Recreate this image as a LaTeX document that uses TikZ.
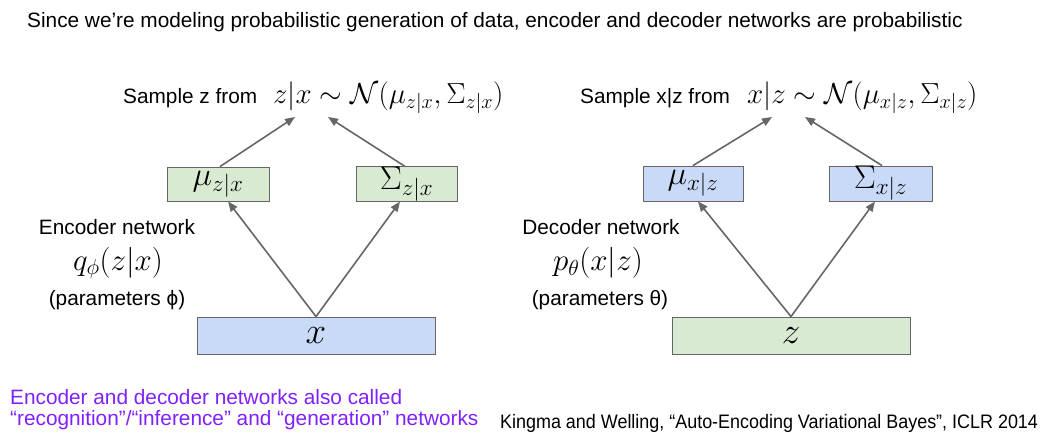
\RequirePackage{fix-cm}
\documentclass[tikz,border=0pt]{standalone}
\usepackage{fontspec}
\setmainfont{Liberation Sans}
\usetikzlibrary{arrows.meta}
\definecolor{encfill}{HTML}{C9DAF8}
\definecolor{decfill}{HTML}{D9EAD3}
\definecolor{edgegray}{HTML}{666666}
\definecolor{notepurple}{HTML}{8020FF}
\tikzset{
  txt/.style={inner sep=0pt, font=\fontsize{20.8}{24}\selectfont},
  mth/.style={inner sep=0pt, font=\fontsize{29}{34}\selectfont},
  netmath/.style={inner sep=0pt, font=\fontsize{31}{36}\selectfont},
  boxmath/.style={font=\fontsize{33}{38}\selectfont},
  bigmath/.style={font=\fontsize{37}{44}\selectfont},
  gbox/.style={draw=edgegray, line width=0.9pt, fill=decfill, inner sep=0pt},
  bbox/.style={draw=edgegray, line width=0.9pt, fill=encfill, inner sep=0pt},
  link/.style={draw=edgegray, line width=1.6pt, -{Triangle[length=10pt,width=8pt]}}
}
\begin{document}
\begin{tikzpicture}[x=1pt,y=-1pt]
\useasboundingbox (0,0) rectangle (1050,432);

% heading
\node[txt, anchor=west] (title) at (27,22) {Since we’re modeling probabilistic generation of data, encoder and decoder networks are probabilistic};

% ---------- encoder ----------
\node[txt, anchor=west] (encsample) at (123,98) {Sample z from};
\node[mth, anchor=west] (encdist) at (273,98) {$z|x \sim \mathcal{N}(\mu_{z|x},\Sigma_{z|x})$};
\coordinate (encinA) at (295,117);
\coordinate (encinB) at (328,117);

\node[gbox, boxmath, minimum width=102pt, minimum height=34pt] (encmu) at (218,184) {$\mu_{z|x}$};
\node[gbox, boxmath, minimum width=101pt, minimum height=34pt] (encsig) at (406.5,184) {$\Sigma_{z|x}$};
\node[bbox, bigmath, minimum width=238pt, minimum height=37pt] (encx) at (316,335.5) {$x$};

\node[txt] (encname) at (117,227) {Encoder network};
\node[netmath] (encq) at (118,263) {$q_\phi(z|x)$};
\node[txt] (encpar) at (117,300) {(parameters ϕ)};

\draw[link] (encx.north) -- (encmu.south -| 228,0);
\draw[link] (encx.north) -- (encsig.south -| 400,0);
\draw[link] (encmu.north -| 220,0) -- (encinA);
\draw[link] (encsig.north -| 405,0) -- (encinB);

% ---------- decoder ----------
\node[txt, anchor=west] (decsample) at (580,98) {Sample x|z from};
\node[mth, anchor=west] (decdist) at (747,98) {$x|z \sim \mathcal{N}(\mu_{x|z},\Sigma_{x|z})$};
\coordinate (decinA) at (772,117);
\coordinate (decinB) at (805,117);

\node[bbox, boxmath, minimum width=100pt, minimum height=35pt] (decmu) at (693,183.5) {$\mu_{x|z}$};
\node[bbox, boxmath, minimum width=103pt, minimum height=35pt] (decsig) at (880.5,183.5) {$\Sigma_{x|z}$};
\node[gbox, bigmath, minimum width=238pt, minimum height=37pt] (decz) at (791,335.5) {$z$};

\node[txt] (decname) at (601,227) {Decoder network};
\node[netmath] (decp) at (598,263) {$p_\theta(x|z)$};
\node[txt] (decpar) at (600,300) {(parameters θ)};

\draw[link] (decz.north) -- (decmu.south -| 698,0);
\draw[link] (decz.north) -- (decsig.south -| 875,0);
\draw[link] (decmu.north -| 693,0) -- (decinA);
\draw[link] (decsig.north -| 882,0) -- (decinB);

% ---------- footer ----------
\node[txt, anchor=west, text=notepurple] (note1) at (10,397) {Encoder and decoder networks also called};
\node[txt, anchor=west, text=notepurple] (note2) at (10,420) {“recognition”/“inference” and “generation” networks};
\node[inner sep=0pt, anchor=west, font=\fontsize{19.5}{22}\addfontfeature{FakeStretch=0.92}\selectfont] (cite) at (500,423) {Kingma and Welling, “Auto-Encoding Variational Bayes”, ICLR 2014};
\end{tikzpicture}
\end{document}
